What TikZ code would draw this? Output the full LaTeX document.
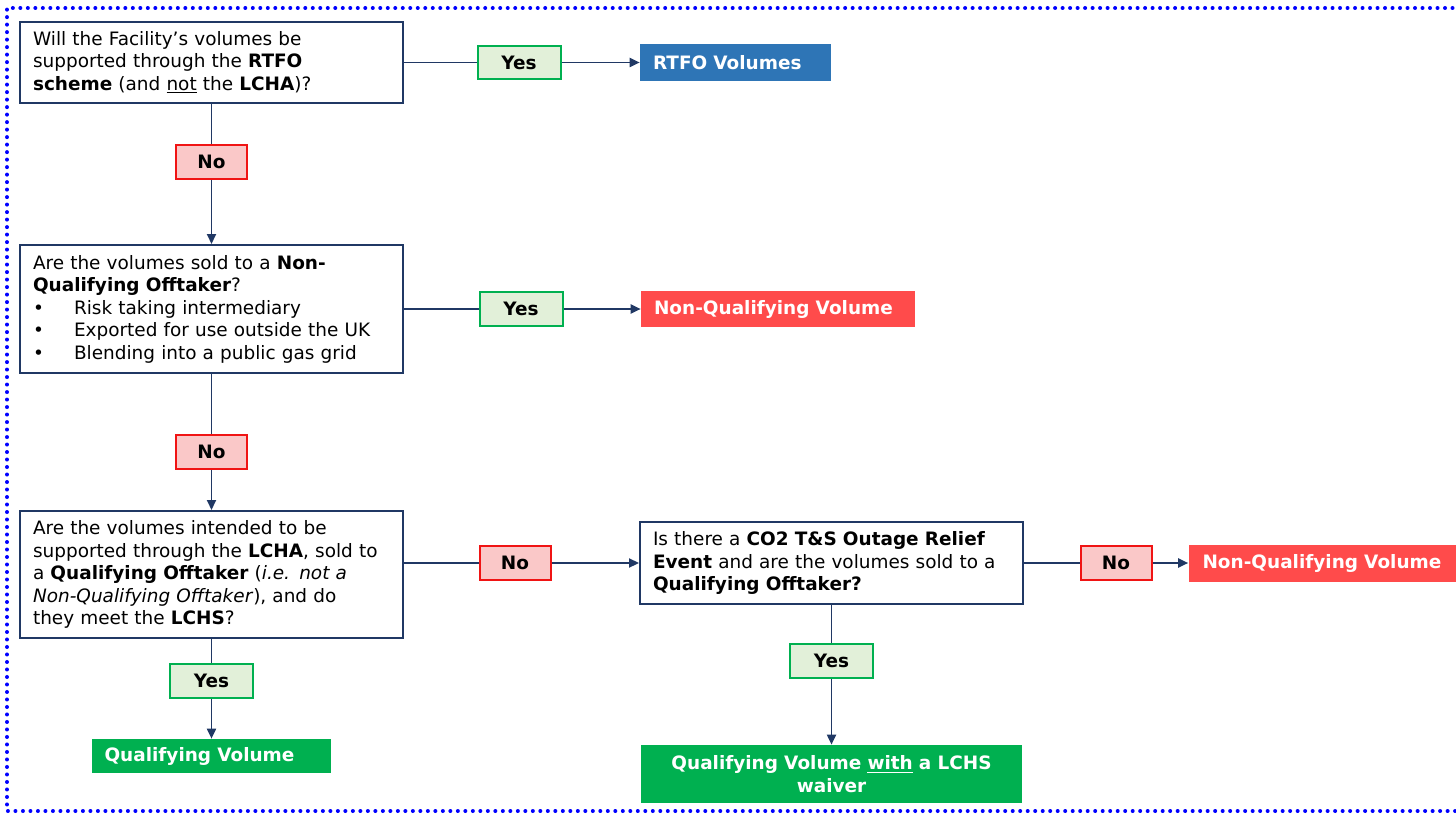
\documentclass[tikz,border=0pt]{standalone}
\usepackage{fontspec}
\setmainfont{DejaVu Sans}
\usepackage{tikz}
\usetikzlibrary{arrows.meta}
\definecolor{bleumarine}{HTML}{203864}
\definecolor{bleurtfo}{HTML}{2E75B6}
\definecolor{rougenq}{HTML}{FF4B4B}
\definecolor{vertq}{HTML}{00B050}
\definecolor{vertoui}{HTML}{E2F0D9}
\definecolor{rosenon}{HTML}{FAC8C8}
\definecolor{rougenon}{HTML}{F01414}

\begin{document}
\begin{tikzpicture}[x=0.02cm,y=-0.02cm]
% définition des paramètres
\tikzstyle cadrebleu=[color=blue,line width=0.08cm,line cap=round,dash pattern=on 0pt off 0.15cm]
\tikzstyle questionflux=[draw=bleumarine,line width=0.04cm,fill=white,align=left,text width=7.14cm,inner xsep=0.26cm,minimum height=1.62cm,font=\fontsize{10.5}{12.8}\selectfont]
\tikzstyle ouiflux=[draw=vertq,line width=0.04cm,fill=vertoui,minimum width=1.66cm,minimum height=0.68cm,font=\fontsize{10.5}{12.8}\selectfont\bfseries]
\tikzstyle nonflux=[draw=rougenon,line width=0.04cm,fill=rosenon,minimum width=1.42cm,minimum height=0.68cm,font=\fontsize{10.5}{12.8}\selectfont\bfseries]
\tikzstyle resultatflux=[text=white,align=left,inner xsep=0.26cm,minimum height=0.74cm,font=\fontsize{10.5}{12.8}\selectfont\bfseries]
\tikzstyle lienflux=[color=bleumarine,line width=0.038cm]
\tikzstyle flecheflux=[lienflux,-{Triangle[length=0.2cm,width=0.18cm]}]
\useasboundingbox (0,0) rectangle (1456,814);
\clip (0,0) rectangle (1456,814);
% le cadre pointillé
\draw[cadrebleu] (1460,8) -- (7,8) -- (7,811) -- (1460,811);
% les questions
\node[questionflux] (q1) at (211.5,62.5) {Will the Facility’s volumes be\\ supported through the \textbf{RTFO}\\ \textbf{scheme} (and \underline{not} the \textbf{LCHA})?};
\node[questionflux,minimum height=2.56cm] (q2) at (211.5,309) {Are the volumes sold to a \textbf{Non-}\\ \textbf{Qualifying Offtaker}?\\
\makebox[0.82cm][l]{\textbullet}Risk taking intermediary\\
\makebox[0.82cm][l]{\textbullet}Exported for use outside the UK\\
\makebox[0.82cm][l]{\textbullet}Blending into a public gas grid};
\node[questionflux,minimum height=2.54cm] (q3) at (211.5,574.5) {Are the volumes intended to be\\ supported through the \textbf{LCHA}, sold to\\ a \textbf{Qualifying Offtaker} (\textit{i.e. not a}\\ \textit{Non-Qualifying Offtaker}), and do\\ they meet the \textbf{LCHS}?};
\node[questionflux,minimum height=1.64cm] (q4) at (831.5,563) {Is there a \textbf{CO2 T\&S Outage Relief}\\ \textbf{Event} and are the volumes sold to a\\ \textbf{Qualifying Offtaker?}};
% les oui et les non
\node[ouiflux] (oui1) at (519,62.5) {Yes};
\node[nonflux] (non1) at (211.5,162) {No};
\node[ouiflux] (oui2) at (521,309) {Yes};
\node[nonflux] (non2) at (211.5,452) {No};
\node[nonflux] (non3) at (515,563) {No};
\node[nonflux] (non4) at (1116,563) {No};
\node[ouiflux] (oui3) at (211.5,681) {Yes};
\node[ouiflux] (oui4) at (831.5,661) {Yes};
% les résultats
\node[resultatflux,fill=bleurtfo,text width=3.30cm,minimum height=0.76cm] (rtfo) at (735.5,62.5) {RTFO Volumes};
\node[resultatflux,fill=rougenq,text width=4.96cm] (nq1) at (778,309) {Non-Qualifying Volume};
\node[resultatflux,fill=rougenq,text width=5.10cm,inner xsep=0.28cm] (nq2) at (1330,563) {Non-Qualifying Volume};
\node[resultatflux,fill=vertq,text width=4.28cm,minimum height=0.68cm] (qv1) at (211.5,756) {Qualifying Volume};
\node[resultatflux,fill=vertq,text width=7.10cm,align=center,minimum height=1.16cm] (qv2) at (831.5,774) {Qualifying Volume \underline{with} a LCHS\\ waiver};
% les liens
\draw[lienflux] (q1) -- (oui1);
\draw[flecheflux] (oui1) -- (rtfo);
\draw[lienflux] (q1) -- (non1);
\draw[flecheflux] (non1) -- (q2);
\draw[lienflux] (q2) -- (oui2);
\draw[flecheflux] (oui2) -- (nq1);
\draw[lienflux] (q2) -- (non2);
\draw[flecheflux] (non2) -- (q3);
\draw[lienflux] (q3.east |- non3) -- (non3);
\draw[flecheflux] (non3) -- (q4);
\draw[lienflux] (q4) -- (non4);
\draw[flecheflux] (non4) -- (nq2);
\draw[lienflux] (q3) -- (oui3);
\draw[flecheflux] (oui3) -- (qv1);
\draw[lienflux] (q4) -- (oui4);
\draw[flecheflux] (oui4) -- (qv2);
\end{tikzpicture}
\end{document}
